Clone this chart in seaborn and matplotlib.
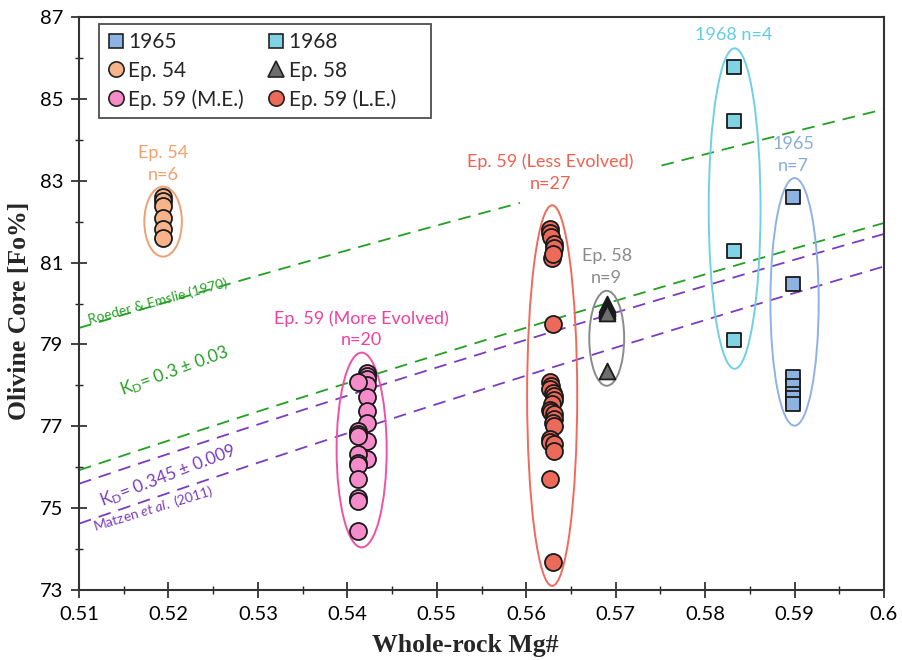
import numpy as np
import pandas as pd
import matplotlib
matplotlib.use("Agg")
import matplotlib.pyplot as plt
import seaborn as sns
from matplotlib.patches import Ellipse
from matplotlib.lines import Line2D

# ---------------- data ----------------
g1965_mg = [0.5898] * 7
g1965_fo = [82.59, 80.48, 78.21, 77.98, 77.80, 77.68, 77.55]

g1968_mg = [0.5832] * 4
g1968_fo = [85.79, 84.45, 81.28, 79.12]

ep54_mg = [0.5194] * 6
ep54_fo = [82.61, 82.50, 82.37, 82.10, 81.83, 81.61]

ep58_mg = [0.5690] * 9
ep58_fo = [79.98, 79.95, 79.92, 79.90, 79.88, 79.85, 79.82, 79.77, 78.35]

ep59me_mg = [0.5422, 0.5422, 0.5422, 0.5422, 0.5422, 0.5422, 0.5422, 0.5422, 0.5422,
             0.5412, 0.5412, 0.5412, 0.5412, 0.5412, 0.5412, 0.5412, 0.5412, 0.5412,
             0.5412, 0.5412]
ep59me_fo = [78.29, 78.23, 78.15, 78.02, 77.72, 77.37, 77.07, 76.64, 76.20,
             78.08, 76.89, 76.80, 76.76, 76.32, 76.11, 76.05, 75.71, 75.26,
             75.18, 74.45]

ep59le_mg = [0.5627, 0.5627, 0.5628, 0.5631, 0.5631, 0.5629, 0.5630,
             0.5630,
             0.5627, 0.5628, 0.5627, 0.5630, 0.5631, 0.5631, 0.5629, 0.5627,
             0.5628, 0.5631, 0.5631, 0.5630, 0.5631, 0.5627, 0.5627, 0.5631,
             0.5631, 0.5627, 0.5630]
ep59le_fo = [81.83, 81.72, 81.62, 81.45, 81.35, 81.12, 81.20,
             79.49,
             78.07, 77.98, 77.92, 77.82, 77.74, 77.64, 77.55, 77.40,
             77.35, 77.29, 77.17, 77.09, 77.01, 76.70, 76.62, 76.56,
             76.40, 75.71, 73.68]

# Kd equilibrium lines
kd_green = [0.27, 0.33]     # 0.3 +/- 0.03 (Roeder & Emslie 1970)
kd_purple = [0.336, 0.354]  # 0.345 +/- 0.009 (Matzen et al. 2011)

xticks = [0.51, 0.52, 0.53, 0.54, 0.55, 0.56, 0.57, 0.58, 0.59, 0.60]
xtick_labels = ["0.51", "0.52", "0.53", "0.54", "0.55", "0.56", "0.57", "0.58", "0.59", "0.6"]
yticks = [73, 75, 77, 79, 81, 83, 85, 87]

groups = ["1965", "1968", "Ep. 54", "Ep. 58", "Ep. 59 (M.E.)", "Ep. 59 (L.E.)"]
group_mg = [g1965_mg, g1968_mg, ep54_mg, ep58_mg, ep59me_mg, ep59le_mg]
group_fo = [g1965_fo, g1968_fo, ep54_fo, ep58_fo, ep59me_fo, ep59le_fo]

# ---------------- styles ----------------
face = {"1965": "#8db3e2", "1968": "#7fd3e2", "Ep. 54": "#f7b38a", "Ep. 58": "#6e6e6e",
        "Ep. 59 (M.E.)": "#f58cc9", "Ep. 59 (L.E.)": "#ec6a5a"}
mark = {"1965": "s", "1968": "s", "Ep. 54": "o", "Ep. 58": "^",
        "Ep. 59 (M.E.)": "o", "Ep. 59 (L.E.)": "o"}
msize = {"1965": 105, "1968": 105, "Ep. 54": 150, "Ep. 58": 130,
         "Ep. 59 (M.E.)": 150, "Ep. 59 (L.E.)": 150}

rows = []
for g, xs, ys in zip(groups, group_mg, group_fo):
    for x, y in zip(xs, ys):
        rows.append({"group": g, "mg": x, "fo": y})
df = pd.DataFrame(rows)

sns.set_style("ticks")
plt.rcParams["font.family"] = ["Lato", "DejaVu Sans"]
plt.rcParams["mathtext.fontset"] = "custom"
plt.rcParams["mathtext.rm"] = "Lato"
plt.rcParams["mathtext.it"] = "Lato:italic"

fig = plt.figure(figsize=(9.03, 6.60), dpi=100)
ax = fig.add_axes([79 / 903, 70 / 660, 805 / 903, 573 / 660])

# equilibrium lines
GREEN = "#22a022"
PURPLE = "#7a3cc0"
mg_grid = np.linspace(0.51, 0.60, 200)


def fo_eq(kd, mg):
    return 100.0 / (1.0 + kd * (1.0 / mg - 1.0))


gap_lo, gap_hi = 0.5595, 0.5747
for i, kd in enumerate(kd_green):
    fo = fo_eq(kd, mg_grid)
    if i == 0:
        fo = np.where((mg_grid > gap_lo) & (mg_grid < gap_hi), np.nan, fo)
    ax.plot(mg_grid, fo, color=GREEN, lw=1.3, ls=(0, (7, 4.5)), zorder=1)
for kd in kd_purple:
    ax.plot(mg_grid, fo_eq(kd, mg_grid), color=PURPLE, lw=1.3, ls=(0, (7, 4.5)), zorder=1)

# ellipses
ell_col = {"Ep. 54": "#f0a070", "Ep. 59 (M.E.)": "#f050a8", "Ep. 59 (L.E.)": "#f06a5c",
           "Ep. 58": "#8a8a8a", "1968": "#6fd0e6", "1965": "#8fb2e6"}
ellipses = [("Ep. 54", 0.5194, 82.0, 0.0042, 1.71),
            ("Ep. 59 (M.E.)", 0.5416, 76.42, 0.0056, 4.76),
            ("Ep. 59 (L.E.)", 0.5629, 77.75, 0.0056, 9.3),
            ("Ep. 58", 0.5690, 79.15, 0.0039, 2.32),
            ("1968", 0.5833, 82.32, 0.0058, 7.83),
            ("1965", 0.5900, 80.04, 0.0054, 6.05)]
for g, cx, cy, w, h in ellipses:
    ax.add_patch(Ellipse((cx, cy), w, h, fill=False, edgecolor=ell_col[g], lw=1.4, zorder=2))

# points
for g in groups:
    sub = df[df["group"] == g]
    sns.scatterplot(data=sub, x="mg", y="fo", marker=mark[g], s=msize[g], color=face[g],
                    edgecolor="#1a1a1a", linewidth=1.3, legend=False, ax=ax, zorder=3)

# group annotations
txt_col = {"Ep. 54": "#f2a06c", "Ep. 59 (M.E.)": "#f0409f", "Ep. 59 (L.E.)": "#f0604f",
           "Ep. 58": "#8a8a8a", "1968": "#62cde6", "1965": "#88abe2"}
notes = [("Ep. 54", 0.5194, 83.40, "Ep. 54\nn=6"),
         ("Ep. 59 (M.E.)", 0.5416, 79.37, "Ep. 59 (More Evolved)\nn=20"),
         ("Ep. 59 (L.E.)", 0.5627, 83.20, "Ep. 59 (Less Evolved)\nn=27"),
         ("Ep. 58", 0.5690, 80.89, "Ep. 58\nn=9"),
         ("1968", 0.5832, 86.56, "1968 n=4"),
         ("1965", 0.5899, 83.62, "1965\nn=7")]
for g, x, y, s in notes:
    ax.text(x, y, s, color=txt_col[g], fontsize=13, ha="center", va="center",
            linespacing=1.45, zorder=4)

ax.text(0.5188, 80.05, "Roeder & Emslie (1970)", color=GREEN, fontsize=10,
        rotation=15, ha="center", va="center", zorder=4)
ax.text(0.5207, 78.34, r"K$_\mathregular{D}$= 0.3 ± 0.03", color=GREEN, fontsize=12.5,
        rotation=20, ha="center", va="center", zorder=4)
ax.text(0.5199, 75.80, r"K$_\mathregular{D}$= 0.345 ± 0.009", color=PURPLE, fontsize=12.5,
        rotation=21, ha="center", va="center", zorder=4)
ax.text(0.5183, 75.00, r"Matzen $\mathit{et\ al.}$ (2011)", color=PURPLE, fontsize=10,
        rotation=17, ha="center", va="center", zorder=4)

# axes
ax.set_xlim(0.51, 0.60)
ax.set_ylim(73, 87)
ax.set_xticks(xticks)
ax.set_xticklabels(xtick_labels)
ax.set_yticks(yticks)
ax.set_xticks(np.arange(0.515, 0.60, 0.01), minor=True)
ax.set_yticks(np.arange(74, 87, 2), minor=True)
ax.tick_params(axis="both", which="major", direction="inout", length=11, width=1.2,
               labelsize=14.5, colors="#222222", pad=6)
ax.tick_params(axis="both", which="minor", direction="inout", length=6, width=1.0,
               colors="#222222")
ax.tick_params(axis="x", labelcolor="black")
ax.tick_params(axis="y", labelcolor="black")
for sp in ax.spines.values():
    sp.set_visible(True)
    sp.set_linewidth(1.5)
    sp.set_color("#333333")

ax.set_xlabel("Whole-rock Mg#", fontfamily="Liberation Serif", fontweight="bold",
              fontsize=18.5)
ax.set_ylabel("Olivine Core [Fo%]", fontfamily="Liberation Serif", fontweight="bold",
              fontsize=18.5)
ax.xaxis.set_label_coords(0.48, -0.077)
ax.yaxis.set_label_coords(-0.06, 0.487)

# legend
order = ["1965", "Ep. 54", "Ep. 59 (M.E.)", "1968", "Ep. 58", "Ep. 59 (L.E.)"]
pad_right = {"1968": "     ", "Ep. 58": "     ", "Ep. 59 (L.E.)": "     "}
handles = [Line2D([], [], ls="none", marker=mark[g], markersize=11 if mark[g] != "s" else 10,
                  markerfacecolor=face[g], markeredgecolor="#222222", markeredgewidth=1.2,
                  label=g + pad_right.get(g, "")) for g in order]
leg = ax.legend(handles=handles, ncol=2, loc="upper left",
                bbox_to_anchor=(20 / 805, 1 - 7 / 573), borderaxespad=0,
                fontsize=15, frameon=True, fancybox=False, handlelength=0.8,
                handletextpad=0.2, columnspacing=1.15, labelspacing=0.4,
                borderpad=0.4)
leg.get_frame().set_edgecolor("#222222")
leg.get_frame().set_linewidth(1.3)

fig.savefig("out.png", dpi=100)
